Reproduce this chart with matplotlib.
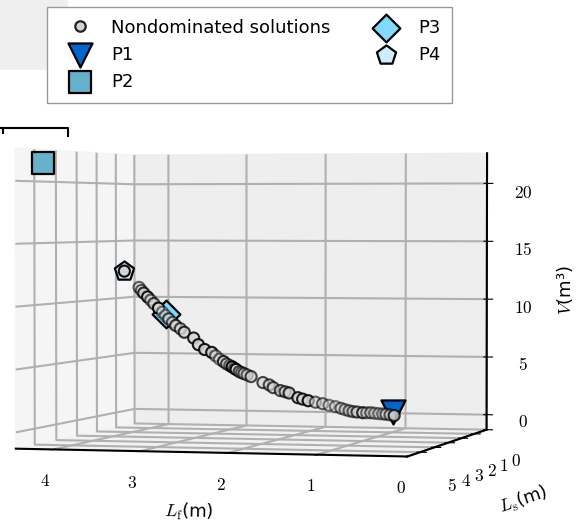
import matplotlib
matplotlib.use("Agg")
import matplotlib.pyplot as plt
from matplotlib.lines import Line2D
from matplotlib.patches import Rectangle

plt.rcParams['mathtext.fontset'] = 'cm'

lf = [4.31, 4.25, 4.20, 4.12, 4.01, 3.93, 3.84, 3.73, 3.61, 3.55, 3.47, 3.38, 3.28, 3.19, 3.12,
      3.07, 3.03, 3.00, 2.97, 2.88, 2.73, 2.60, 2.51, 2.40, 2.29, 2.16, 1.98, 1.82, 1.75, 1.70,
      1.60, 1.55, 1.48, 1.43, 1.38, 1.33, 1.28, 1.23, 1.19, 1.14, 1.09,
      4.28, 4.16, 4.06, 3.97, 3.88, 3.78, 3.33, 3.23, 3.15, 3.09, 2.93, 2.65, 2.45, 2.23, 2.07, 1.90, 1.65,
      4.50]
ls = [0.3] * len(lf)
v = [10.87, 10.37, 10.03, 9.45, 8.69, 8.11, 7.53, 6.94, 6.44, 5.86, 5.44, 5.19, 4.60, 4.19, 3.94,
     3.72, 3.53, 3.45, 3.36, 3.11, 2.60, 2.17, 1.92, 1.72, 1.32, 1.07, 0.83, 0.59, 0.45, 0.34,
     0.18, 0.15, 0.10, 0.10, 0.11, 0.07, 0.04, 0.02, 0.00, -0.05, -0.10,
     10.6, 9.75, 9.05, 8.4, 7.8, 7.25, 4.9, 4.4, 4.05, 3.8, 3.25, 2.4, 1.82, 1.2, 0.95, 0.70, 0.25,
     12.3]
shade = [0.95, 0.6, 0.6, 0.8, 0.9, 0.6, 0.7, 0.95, 0.5, 0.45, 0.7, 0.6, 0.75, 0.7, 0.8,
         0.85, 0.9, 0.9, 0.9, 0.6, 0.5, 0.8, 0.7, 0.6, 1.0, 0.6, 0.95, 0.7, 0.6, 0.7,
         0.6, 0.7, 0.7, 0.7, 0.7, 0.7, 0.7, 0.8, 0.85, 0.85, 0.9,
         0.6, 0.6, 0.5, 0.5, 0.6, 0.5, 0.6, 0.6, 0.7, 0.8, 0.5, 0.6, 0.5, 0.5, 0.5, 0.6, 0.6,
         0.8]

p_names = ['P1', 'P2', 'P3', 'P4']
p_lf = [1.10, 4.29, 3.96, 4.50]
p_ls = [0.3, 5.2, 0.3, 0.3]
p_v = [0.2, 21.45, 8.5, 12.3]
p_markers = ['v', 's', 'D', 'p']
p_colors = ['#0066cc', '#66b2cc', '#80daff', '#cceeff']
p_sizes = [300, 250, 200, 210]

x_ticks = [0, 1, 2, 3, 4]
y_ticks = [0, 1, 2, 3, 4, 5]
z_ticks = [0, 5, 10, 15, 20]

W, H = 584, 523
fig = plt.figure(figsize=(W / 100, H / 100), dpi=100)
fig.add_artist(Rectangle((0, 1 - 70 / H), 68 / W, 70 / H, transform=fig.transFigure, fc='#efefef', ec='none', zorder=-5))
fig.add_artist(Line2D([3 / W, 3 / W, 0], [1 - 133 / H, 1 - 128 / H, 1 - 128 / H], transform=fig.transFigure, color='k', lw=1.5))
fig.add_artist(Line2D([0, 68 / W, 68 / W], [1 - 128 / H, 1 - 128 / H, 1 - 136 / H], transform=fig.transFigure, color='k', lw=1.5))

S = 597
cx, cy = 253, 303
ax = fig.add_axes([(cx - S / 2) / W, 1 - (cy + S / 2) / H, S / W, S / H], projection='3d', computed_zorder=False)
ax.patch.set_alpha(0)
ax.view_init(elev=1.45, azim=105)
ax.set_xlim(0, 4.44)
ax.set_ylim(0, 5.85)
ax.set_zlim(-1.3, 22.6)

for axis, col in [(ax.xaxis, '#f5f5f5'), (ax.yaxis, '#eeeeee'), (ax.zaxis, '#f2f2f2')]:
    axis.set_pane_color(col)
    axis.pane.set_edgecolor(col)
    axis._axinfo['grid']['color'] = '#b0b0b0'
    axis._axinfo['grid']['linewidth'] = 1.5
    axis._axinfo['axisline']['linewidth'] = 1.5
    axis.line.set_color('k')
    axis.line.set_linewidth(1.5)

handles = []
for i in range(4):
    h = ax.scatter([p_lf[i]], [p_ls[i]], [p_v[i]], marker=p_markers[i], s=p_sizes[i], c=p_colors[i],
                   edgecolors='k', linewidths=1.6, depthshade=False, label=p_names[i], zorder=2)
    handles.append(h)
pts = ax.scatter(lf, ls, v, s=64, c='lightgray', edgecolors='k', linewidths=1.5, alpha=shade,
                 depthshade=False, zorder=3, label='Nondominated solutions')
pts_h = Line2D([], [], ls='none', marker='o', ms=7.5, mfc='lightgray', mec='#222222', mew=1.6, label='Nondominated solutions')

ax.set_xticks(x_ticks)
ax.set_yticks(y_ticks)
ax.set_zticks(z_ticks)
ax.set_xticklabels([f'${t}$' for t in x_ticks], fontsize=12.5)
ax.set_yticklabels([f'${t}$' for t in y_ticks], fontsize=12.5)
ax.set_zticklabels([f'${t}$' for t in z_ticks], fontsize=12.5)
ax.tick_params(axis='x', pad=7)
ax.tick_params(axis='y', pad=10)
ax.tick_params(axis='z', pad=11)
ax.set_xlabel(r'$L_{\mathrm{f}}$(m)', fontsize=13, labelpad=18)
ax.set_ylabel(r'$L_{\mathrm{s}}$(m)', fontsize=13, labelpad=22)
ax.set_zlabel(r'$V$(m³)', fontsize=13, labelpad=20)

fig.legend(handles=[pts_h] + handles, ncol=2, loc='upper left', bbox_to_anchor=(47 / W, 1 - 7 / H),
           fontsize=13, fancybox=False, edgecolor='#999999', framealpha=1, borderaxespad=0,
           borderpad=0.65, handlelength=2.3, handletextpad=0.6, columnspacing=1.95, labelspacing=0.5)
fig.savefig('out.png', dpi=100)
